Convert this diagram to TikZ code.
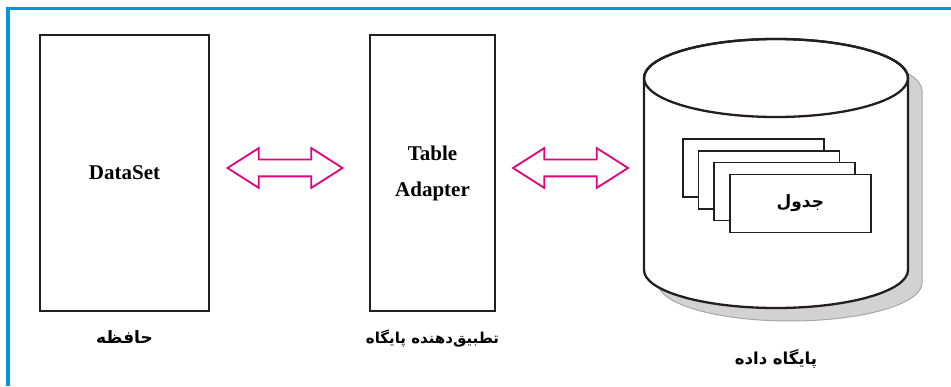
\documentclass[tikz,border=0pt]{standalone}
\usepackage{fontspec}
\setmainfont{Liberation Serif}
\newfontfamily\farsifont[Script=Arabic]{DejaVu Sans}
\TeXXeTstate=1
\usetikzlibrary{positioning,shapes.arrows}

\definecolor{frameblue}{RGB}{0,150,215}
\definecolor{arrowpink}{RGB}{230,0,126}
\definecolor{boxline}{RGB}{35,31,32}

\tikzset{
	block/.style={draw=boxline, line width=2.3pt, fill=white, minimum width=#1, minimum height=276pt, inner sep=0pt, align=center, font=\bfseries\fontsize{21}{36}\selectfont},
	dblarrow/.style={double arrow, draw=arrowpink, line width=1.8pt, fill=white, minimum height=115pt, inner sep=7.5pt, double arrow head extend=11.5pt, double arrow tip angle=65},
	tablebox/.style={draw=boxline, line width=1.5pt, fill=white, minimum width=141pt, minimum height=58pt, inner sep=0pt},
	falabel/.style={font=\farsifont\bfseries\fontsize{15}{16}\selectfont, inner sep=0pt}
}

\begin{document}
\begin{tikzpicture}[x=1pt, y=1pt]
		\useasboundingbox (0,0) rectangle (951,386);

		%frame
		\draw[frameblue, line width=3.5pt] (8,0) -- (8,377.5) -- (951,377.5);

		%DataSet
		\node[block=169pt] (dataset) at (124.5,213) {DataSet};
		\node[falabel, font=\farsifont\bfseries\fontsize{17}{18}\selectfont, below=18pt of dataset] (memory) {\beginR حافظه\endR};

		%TableAdapter
		\node[block=125pt] (adapter) at (432.5,213) {Table\\Adapter};
		\node[falabel, below=18pt of adapter] (adapterlbl) {\beginR تطبیق‌دهنده پایگاه\endR};

		%arrows
		\node[dblarrow] (arrowA) at (285,218) {};
		\node[dblarrow] (arrowB) at (570.5,218) {};

		%database
		\begin{scope}[shift={(14,-13)}]
			\draw[gray!70, line width=1pt, fill=gray!35] (644,308) -- (644,116) arc[start angle=180, end angle=360, x radius=132, y radius=38] -- (908,308) arc[start angle=0, end angle=180, x radius=132, y radius=39] -- cycle;
		\end{scope}
		\draw[boxline, line width=2.3pt, fill=white] (644,308) -- (644,116) arc[start angle=180, end angle=360, x radius=132, y radius=38] -- (908,308) arc[start angle=0, end angle=180, x radius=132, y radius=39] -- cycle;
		\draw[boxline, line width=2.3pt] (776,308) ellipse[x radius=132, y radius=39];
		\coordinate (dbbottom) at (776,78);
		\node[falabel, font=\farsifont\bfseries\fontsize{16.5}{18}\selectfont, below=41pt of dbbottom] (dblbl) {\beginR پایگاه داده\endR};

		%tables
		\foreach \i in {1,2,3}{
			\node[tablebox] (tbl\i) at ({753.5+15.6*(\i-1)},{218-11.8*(\i-1)}) {};
		}
		\node[tablebox, font=\farsifont\bfseries\fontsize{17}{18}\selectfont] (tbl4) at (800.3,182.6) {\beginR جدول\endR};
	\end{tikzpicture}
\end{document}
